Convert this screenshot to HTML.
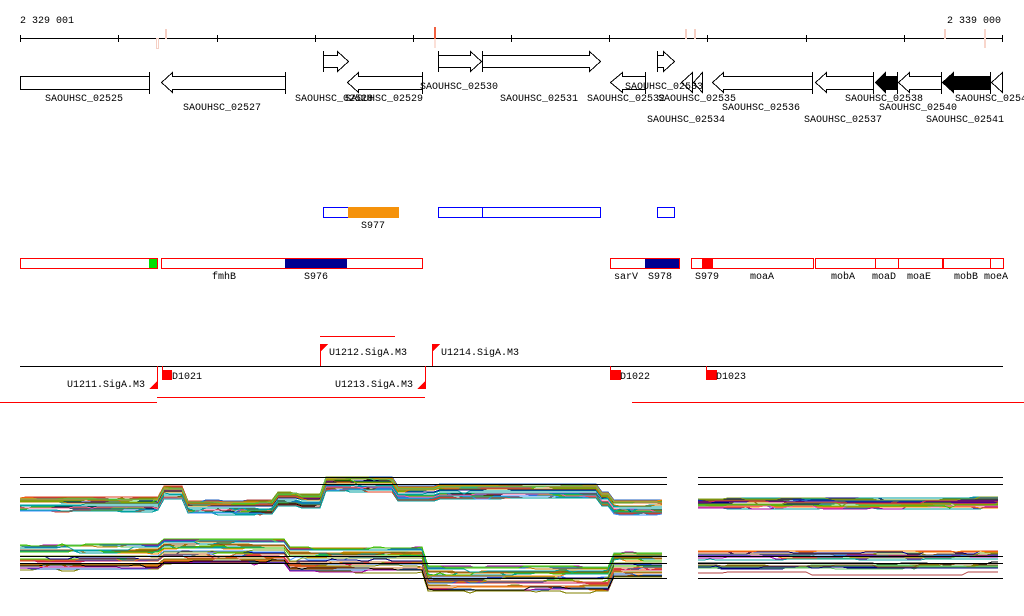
<!DOCTYPE html>
<html><head><meta charset="utf-8"><style>
body{margin:0;background:#fff;width:1024px;height:611px;overflow:hidden}
svg text{font-family:"Liberation Mono","DejaVu Sans Mono",monospace;font-size:10px;fill:#000}
</style></head><body>
<svg id="s" width="1024" height="611" xmlns="http://www.w3.org/2000/svg" shape-rendering="crispEdges">
<text x="20" y="23">2 329 001</text>
<text x="947" y="23">2 339 000</text>
<line x1="20" y1="38.5" x2="1003" y2="38.5" stroke="#000"/>
<g stroke="#000">
<line x1="20.5" y1="35" x2="20.5" y2="42"/><line x1="118.5" y1="35" x2="118.5" y2="42"/><line x1="217.5" y1="35" x2="217.5" y2="42"/><line x1="315.5" y1="35" x2="315.5" y2="42"/><line x1="413.5" y1="35" x2="413.5" y2="42"/><line x1="511.5" y1="35" x2="511.5" y2="42"/><line x1="609.5" y1="35" x2="609.5" y2="42"/><line x1="707.5" y1="35" x2="707.5" y2="42"/><line x1="806.5" y1="35" x2="806.5" y2="42"/><line x1="904.5" y1="35" x2="904.5" y2="42"/><line x1="1002.5" y1="35" x2="1002.5" y2="42"/>
</g>
<rect x="434" y="27" width="2" height="12" fill="#f06040"/><rect x="434" y="39" width="2" height="9" fill="#fbe0d8"/>
<g fill="none" stroke="#f5cfc4"><rect x="156.5" y="38.5" width="2" height="10"/><rect x="165.5" y="29.5" width="1" height="9"/><rect x="685.5" y="29.5" width="1" height="9"/><rect x="694.5" y="29.5" width="1" height="9"/><rect x="944.5" y="29.5" width="1" height="9"/></g>
<rect x="984" y="29" width="2" height="19" fill="#f8d6cc"/>
<g fill="#fff" stroke="#000">
<path d="M323.5 55.5H337.5V51.5L348.5 61.5L337.5 71.5V67.5H323.5Z"/><line x1="323.5" y1="51" x2="323.5" y2="72"/>
<path d="M438.5 55.5H470.5V51.5L481.5 61.5L470.5 71.5V67.5H438.5Z"/><line x1="438.5" y1="51" x2="438.5" y2="72"/>
<path d="M482.5 55.5H589.5V51.5L600.5 61.5L589.5 71.5V67.5H482.5Z"/><line x1="482.5" y1="51" x2="482.5" y2="72"/>
<path d="M657.5 55.5H663.5V51.5L674.5 61.5L663.5 71.5V67.5H657.5Z"/><line x1="657.5" y1="51" x2="657.5" y2="72"/>
<rect x="20.5" y="76.5" width="129" height="13"/><line x1="149.5" y1="72" x2="149.5" y2="94"/>
<path d="M285.5 76.5H172.5V72.5L161.5 82.5L172.5 92.5V89.5H285.5Z"/><line x1="285.5" y1="72" x2="285.5" y2="94"/>
<path d="M422.5 76.5H358.5V72.5L347.5 82.5L358.5 92.5V89.5H422.5Z"/><line x1="422.5" y1="72" x2="422.5" y2="94"/>
<path d="M645.5 76.5H622.5V72.5L610.5 82.5L622.5 92.5V89.5H645.5Z"/><line x1="645.5" y1="72" x2="645.5" y2="94"/>
<path d="M692.5 72.5L681.5 82.5L692.5 92.5Z"/><path d="M702.5 72.5L693.5 82.5L702.5 92.5Z"/>
<path d="M812.5 76.5H723.5V72.5L712.5 82.5L723.5 92.5V89.5H812.5Z"/><line x1="812.5" y1="72" x2="812.5" y2="94"/>
<path d="M873.5 76.5H826.5V72.5L815.5 82.5L826.5 92.5V89.5H873.5Z"/><line x1="873.5" y1="72" x2="873.5" y2="94"/>
<path d="M897.5 76.5H885.5V72.5L875.5 82.5L885.5 92.5V89.5H897.5Z" fill="#000"/><line x1="897.5" y1="72" x2="897.5" y2="94"/>
<path d="M941.5 76.5H909.5V72.5L898.5 82.5L909.5 92.5V89.5H941.5Z"/><line x1="941.5" y1="72" x2="941.5" y2="94"/>
<path d="M990.5 76.5H953.5V72.5L942.5 82.5L953.5 92.5V89.5H990.5Z" fill="#000"/><line x1="990.5" y1="72" x2="990.5" y2="94"/>
<path d="M1002.5 72.5L991.5 82.5L1002.5 92.5Z"/>
</g>
<text x="45" y="101">SAOUHSC_02525</text><text x="183" y="110">SAOUHSC_02527</text>
<text x="295" y="101">SAOUHSC_02528</text><text x="345" y="101">SAOUHSC_02529</text>
<text x="420" y="89">SAOUHSC_02530</text><text x="500" y="101">SAOUHSC_02531</text>
<text x="587" y="101">SAOUHSC_02532</text><text x="625" y="89">SAOUHSC_02533</text>
<text x="658" y="101">SAOUHSC_02535</text><text x="647" y="122">SAOUHSC_02534</text>
<text x="722" y="110">SAOUHSC_02536</text><text x="804" y="122">SAOUHSC_02537</text>
<text x="845" y="101">SAOUHSC_02538</text><text x="879" y="110">SAOUHSC_02540</text>
<text x="926" y="122">SAOUHSC_02541</text><text x="955" y="101">SAOUHSC_02542</text>
<g fill="none" stroke="#0000ff"><rect x="323.5" y="207.5" width="25" height="10"/><rect x="438.5" y="207.5" width="44" height="10"/><rect x="482.5" y="207.5" width="118" height="10"/><rect x="657.5" y="207.5" width="17" height="10"/></g>
<rect x="348" y="207" width="51" height="11" fill="#f5920a"/>
<text x="361" y="228">S977</text>
<rect x="149" y="258" width="8" height="10" fill="#00e000"/><rect x="285" y="258" width="62" height="10" fill="#000090"/><rect x="645" y="258" width="34" height="10" fill="#000090"/><rect x="702" y="258" width="11" height="10" fill="#ff0000"/>
<g fill="none" stroke="#ff0000"><rect x="20.5" y="258.5" width="137" height="10"/><rect x="161.5" y="258.5" width="261" height="10"/><rect x="610.5" y="258.5" width="69" height="10"/><rect x="691.5" y="258.5" width="122" height="10"/><rect x="815.5" y="258.5" width="60" height="10"/><rect x="875.5" y="258.5" width="23" height="10"/><rect x="898.5" y="258.5" width="44" height="10"/><rect x="943.5" y="258.5" width="47" height="10"/><rect x="990.5" y="258.5" width="13" height="10"/></g>
<text x="212" y="279">fmhB</text><text x="304" y="279">S976</text><text x="614" y="279">sarV</text><text x="648" y="279">S978</text><text x="695" y="279">S979</text><text x="750" y="279">moaA</text><text x="831" y="279">mobA</text><text x="872" y="279">moaD</text><text x="907" y="279">moaE</text><text x="954" y="279">mobB</text><text x="984" y="279">moeA</text>
<line x1="320" y1="336.5" x2="395" y2="336.5" stroke="#ff0000"/>
<line x1="20" y1="366.5" x2="1003" y2="366.5" stroke="#000"/>
<g fill="#ff0000">
<path d="M320 344H328L320 352Z"/><rect x="320" y="344" width="1" height="22"/>
<path d="M432 344H440L432 352Z"/><rect x="432" y="344" width="1" height="22"/>
<path d="M158 380V389H149Z"/><rect x="157" y="366" width="1" height="23"/>
<path d="M426 380V389H417Z"/><rect x="425" y="366" width="1" height="23"/>
<rect x="162" y="366" width="1" height="4"/><rect x="162" y="370" width="10" height="10"/>
<rect x="610" y="366" width="1" height="4"/><rect x="610" y="370" width="11" height="10"/>
<rect x="706" y="366" width="1" height="4"/><rect x="706" y="370" width="11" height="10"/>
</g>
<text x="329" y="355">U1212.SigA.M3</text><text x="441" y="355">U1214.SigA.M3</text>
<text x="67" y="387">U1211.SigA.M3</text><text x="335" y="387">U1213.SigA.M3</text>
<text x="172" y="379">D1021</text><text x="620" y="379">D1022</text><text x="716" y="379">D1023</text>
<g stroke="#ff0000"><line x1="0" y1="402.5" x2="157" y2="402.5"/><line x1="157" y1="397.5" x2="425" y2="397.5"/><line x1="632" y1="402.5" x2="1024" y2="402.5"/></g>
<g id="plots" fill="none" stroke-width="1"></g>
<g stroke="#000"><line x1="20" y1="477.5" x2="667" y2="477.5"/><line x1="20" y1="484.5" x2="667" y2="484.5"/><line x1="20" y1="556.5" x2="667" y2="556.5"/><line x1="20" y1="563.5" x2="667" y2="563.5"/><line x1="20" y1="578.5" x2="667" y2="578.5"/>
<line x1="698" y1="477.5" x2="1003" y2="477.5"/><line x1="698" y1="484.5" x2="1003" y2="484.5"/><line x1="698" y1="556.5" x2="1003" y2="556.5"/><line x1="698" y1="563.5" x2="1003" y2="563.5"/><line x1="698" y1="578.5" x2="1003" y2="578.5"/></g>
</svg>
<script>
(function(){
var seed=7;function r(){seed=(seed*16807)%2147483647;return seed/2147483647;}
var cols=["#e04020","#80a020","#40c000","#a000a0","#d07030","#4090ff","#000080","#c08000","#ff60a0","#805020","#00a0a0","#808000","#d02060","#2060c0","#ff8000","#60c060","#b04040","#000000"];
var g=document.getElementById("plots");
function panel(x0,x1,segs,spread,n){
 for(var k=0;k<n;k++){
  var off=(r()-0.5)*2*spread, pts=[], c=cols[Math.floor(r()*cols.length)], j=0;
  for(var x=x0;x<=x1;x+=6){
   var base=segs[segs.length-1][1];
   for(var i=0;i<segs.length;i++){if(x<segs[i][0]){base=segs[i][1];break;}}
   if(r()<0.15) j=(r()-0.5)*3;
   pts.push(x+","+(base+off+j).toFixed(0));
  }
  var p=document.createElementNS("http://www.w3.org/2000/svg","polyline");
  p.setAttribute("points",pts.join(" "));p.setAttribute("stroke",c);g.appendChild(p);
 }
}
panel(20,667,[[160,505],[185,494],[275,508],[300,500],[323,502],[395,485],[440,494],[600,492],[612,500],[668,508]],7,28);
panel(698,1003,[[1004,504]],6,22);
panel(20,667,[[160,558],[290,553],[425,561],[610,580],[668,566]],13,30);
panel(698,1003,[[1004,562]],12,22);
})();
</script>
</body></html>
